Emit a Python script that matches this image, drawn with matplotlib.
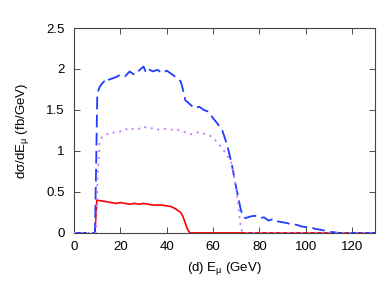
import matplotlib
matplotlib.use("Agg")
import matplotlib.pyplot as plt

plt.rcParams['font.family'] = ['Liberation Sans', 'DejaVu Sans']
plt.rcParams['mathtext.default'] = 'regular'

# Blue dashed
blue_E = [0, 9, 9.5, 10, 11, 12, 13, 14, 15, 16, 18, 20, 22, 24, 26, 28, 30, 31, 32, 34, 36, 38, 40,
          42, 44, 46, 47, 48, 50, 52, 54, 56, 58, 60, 62, 64, 66, 68, 70, 72, 73, 74, 76, 78, 80,
          82, 84, 86, 88, 90, 92, 94, 96, 98, 100, 102, 104, 106, 108, 110, 112, 114, 130]
blue_v = [0, 0, 0.8, 1.70, 1.78, 1.82, 1.85, 1.83, 1.87, 1.88, 1.90, 1.93, 1.91, 1.97, 1.93, 1.98, 2.03, 1.96, 2.00, 1.97, 1.99, 1.95, 1.98,
          1.94, 1.90, 1.85, 1.75, 1.62, 1.57, 1.52, 1.54, 1.50, 1.48, 1.40, 1.33, 1.25, 1.08, 0.85, 0.55, 0.28, 0.20, 0.18, 0.20, 0.21, 0.18,
          0.19, 0.15, 0.17, 0.14, 0.13, 0.12, 0.10, 0.10, 0.08, 0.07, 0.07, 0.05, 0.04, 0.03, 0.01, 0.01, 0.0, 0.0]

# Purple dotted
purple_E = [0, 9.5, 10, 11, 12, 14, 16, 18, 20, 22, 24, 26, 28, 30, 32, 34, 36, 38, 40, 42, 44, 46, 48,
            50, 52, 54, 56, 58, 60, 62, 64, 66, 68, 70, 71, 72, 73, 130]
purple_v = [0, 0, 0.6, 1.10, 1.17, 1.20, 1.23, 1.22, 1.24, 1.27, 1.25, 1.28, 1.27, 1.30, 1.27, 1.28, 1.26, 1.27, 1.27, 1.26, 1.27, 1.24, 1.23,
            1.20, 1.22, 1.23, 1.21, 1.20, 1.16, 1.10, 1.03, 0.95, 0.85, 0.55, 0.30, 0.05, 0, 0]

# Red solid
red_E = [9, 9.8, 12, 14, 16, 18, 20, 22, 24, 26, 28, 30, 32, 34, 36, 38, 40, 42, 44, 46, 47, 48, 49, 50, 130]
red_v = [0, 0.40, 0.39, 0.38, 0.37, 0.36, 0.37, 0.36, 0.35, 0.36, 0.35, 0.36, 0.35, 0.34, 0.34, 0.34, 0.33, 0.32, 0.29, 0.25, 0.20, 0.12, 0.04, 0, 0]

xticks = [0, 20, 40, 60, 80, 100, 120]
yticks = [0, 0.5, 1, 1.5, 2, 2.5]
yticklabels = ['0', '0.5', '1', '1.5', '2', '2.5']

fig = plt.figure(figsize=(3.9, 2.83), dpi=100)
ax = fig.add_axes([0.19, 0.177, 0.772, 0.724])

ax.plot(red_E, red_v, color='#ff0000', lw=1.2, zorder=2)
ax.plot(blue_E, blue_v, color='#1f3cff', lw=1.3, dashes=(7, 3), zorder=3)
ax.plot(purple_E, purple_v, color='#c080ff', lw=1.3, dashes=(1.2, 2.6), zorder=3)

ax.set_xlim(0, 130)
ax.set_ylim(0, 2.5)
ax.set_xticks(xticks)
ax.set_xticklabels([str(t) for t in xticks])
ax.set_yticks(yticks)
ax.set_yticklabels(yticklabels)
ax.tick_params(direction='in', top=True, right=True, length=4, width=0.6,
               labelsize=9.5, color='#333333')
ax.tick_params(axis='x', pad=6)
ax.tick_params(axis='y', pad=7)
for s in ax.spines.values():
    s.set_color('#444444')
    s.set_linewidth(0.8)

ax.set_xlabel('(d) E$_\\mu$ (GeV)', fontsize=9.5, labelpad=5)
ax.set_ylabel('d\u03c3/dE$_\\mu$ (fb/GeV)', fontsize=9.5, labelpad=11)

fig.savefig('out.png', dpi=100)
